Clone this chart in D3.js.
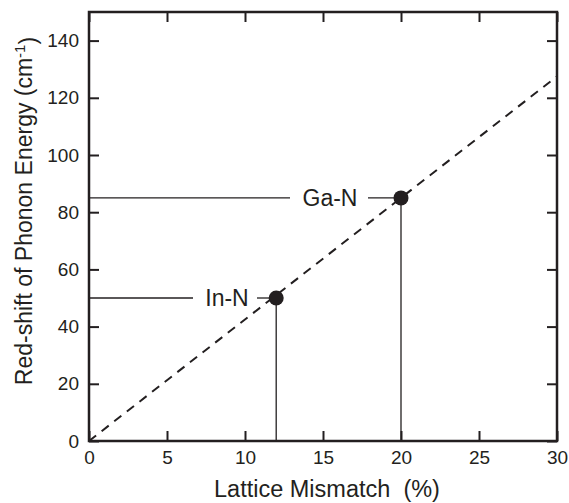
<!DOCTYPE html>
<html>
<head>
<meta charset="utf-8">
<script src="https://cdn.jsdelivr.net/npm/d3@7"></script>
<style>
  body { margin: 0; background: #fff; }
  text { font-family: "Liberation Sans", Arial, sans-serif; fill: #231f20; }
</style>
</head>
<body>
<svg id="chart"></svg>
<script>
const width = 569, height = 503;
const marginLeft = 89, marginRight = 12, marginTop = 12, marginBottom = 62;

// data
const materials = ['In-N', 'Ga-N'];
const mismatch = [12, 20];
const redshift = [50, 85];
const fitLine = [[0, 0], [30, 127.5]];
const xTicks = [0, 5, 10, 15, 20, 25, 30];
const yTicks = [0, 20, 40, 60, 80, 100, 120, 140];

const ink = '#231f20';

const x = d3.scaleLinear().domain([0, 30]).range([marginLeft, width - marginRight]);
const y = d3.scaleLinear().domain([0, 150]).range([height - marginBottom, marginTop]);

const svg = d3.select('#chart')
  .attr('width', width)
  .attr('height', height)
  .attr('viewBox', [0, 0, width, height]);

// dashed fit line, clipped to frame
svg.append('clipPath').attr('id', 'clip')
  .append('rect')
  .attr('x', marginLeft).attr('y', marginTop)
  .attr('width', width - marginLeft - marginRight)
  .attr('height', height - marginTop - marginBottom);

svg.append('path')
  .datum(fitLine)
  .attr('clip-path', 'url(#clip)')
  .attr('d', d3.line().x((d) => x(d[0])).y((d) => y(d[1])))
  .attr('fill', 'none')
  .attr('stroke', ink)
  .attr('stroke-width', 2)
  .attr('stroke-dasharray', '9,7');

// leader lines & labels
const labelInfo = [
  {text: 'In-N', tx: 227, gapL: 193, gapR: 257},
  {text: 'Ga-N', tx: 330, gapL: 290, gapR: 368},
];
materials.forEach((m, i) => {
  const px = x(mismatch[i]), py = y(redshift[i]);
  const info = labelInfo[i];
  svg.append('line')
    .attr('x1', px).attr('x2', px).attr('y1', py).attr('y2', y(0))
    .attr('stroke', ink).attr('stroke-width', 1.3);
  svg.append('line')
    .attr('x1', x(0)).attr('x2', info.gapL).attr('y1', py).attr('y2', py)
    .attr('stroke', ink).attr('stroke-width', 1.3);
  svg.append('line')
    .attr('x1', info.gapR).attr('x2', px).attr('y1', py).attr('y2', py)
    .attr('stroke', ink).attr('stroke-width', 1.3);
  svg.append('text')
    .attr('x', info.tx).attr('y', py)
    .attr('dy', '0.36em')
    .attr('text-anchor', 'middle')
    .style('font-size', '23px')
    .text(m);
  svg.append('circle')
    .attr('cx', px).attr('cy', py).attr('r', 7.5)
    .attr('fill', ink);
});

// axes
const tickLen = 10;
svg.append('g')
  .attr('transform', `translate(0,${y(0)})`)
  .call(d3.axisBottom(x).tickValues(xTicks).tickSize(-tickLen).tickPadding(10))
  .call((g) => g.select('.domain').remove());
svg.append('g')
  .attr('transform', `translate(0,${y(150)})`)
  .call(d3.axisTop(x).tickValues(xTicks).tickSize(-tickLen).tickFormat(''))
  .call((g) => g.select('.domain').remove());
svg.append('g')
  .attr('transform', `translate(${x(0)},0)`)
  .call(d3.axisLeft(y).tickValues(yTicks).tickSize(-tickLen).tickPadding(10))
  .call((g) => g.select('.domain').remove());
svg.append('g')
  .attr('transform', `translate(${x(30)},0)`)
  .call(d3.axisRight(y).tickValues(yTicks).tickSize(-tickLen).tickFormat(''))
  .call((g) => g.select('.domain').remove());

svg.selectAll('.tick line').attr('stroke', ink).attr('stroke-width', 2);
svg.selectAll('.tick text').style('font-size', '19px').attr('fill', ink)
  .style('font-family', '"Liberation Sans", Arial, sans-serif');

// frame
svg.append('rect')
  .attr('x', x(0)).attr('y', y(150))
  .attr('width', x(30) - x(0)).attr('height', y(0) - y(150))
  .attr('fill', 'none').attr('stroke', ink).attr('stroke-width', 2.5);

// axis titles
svg.append('text')
  .attr('x', (x(0) + x(30)) / 2 + 4).attr('y', 497)
  .attr('text-anchor', 'middle')
  .style('font-size', '23.5px')
  .text('Lattice Mismatch\u00a0\u00a0(%)');

const yl = svg.append('text')
  .attr('transform', `translate(32,211) rotate(-90)`)
  .attr('text-anchor', 'middle')
  .style('font-size', '23px');
yl.append('tspan').text('Red-shift of Phonon Energy (cm');
yl.append('tspan').attr('dy', '-0.45em').style('font-size', '15px').text('-1');
yl.append('tspan').attr('dy', '0.45em').text(')');
</script>
</body>
</html>
